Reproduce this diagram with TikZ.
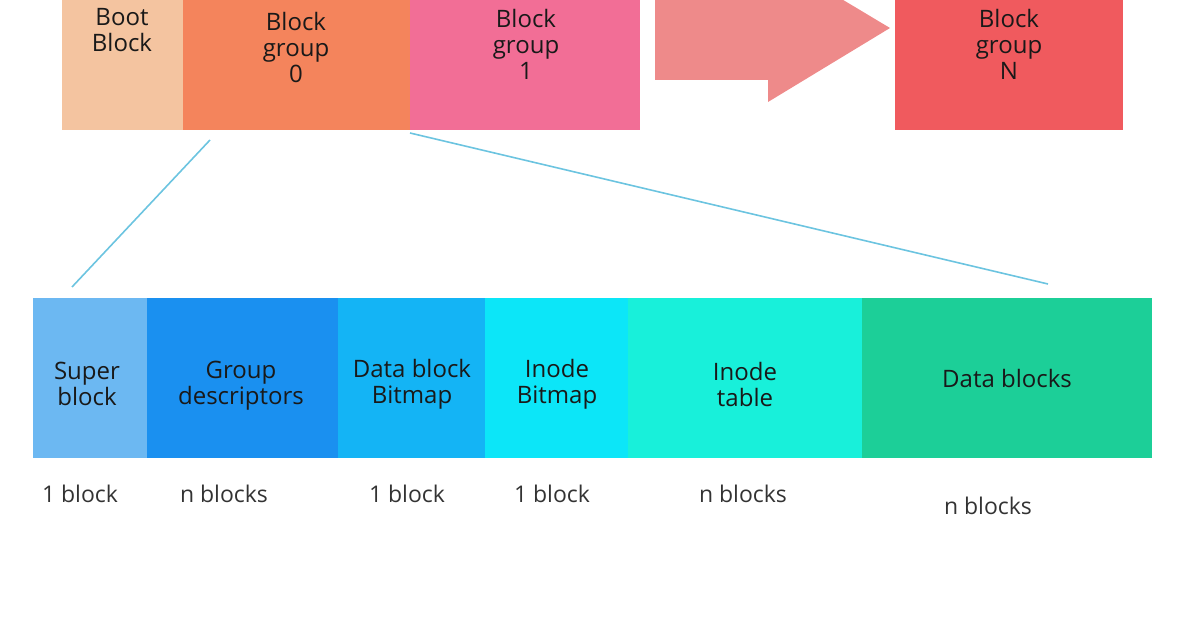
\documentclass[tikz,border=0pt]{standalone}
\usepackage{fontspec}
\setmainfont{Open Sans}
\begin{document}
\begin{tikzpicture}[x=1pt,y=-1pt,
 blk/.style={draw=none,inner sep=0pt,align=center,font=\fontsize{24}{26}\selectfont,text=black!90},
 lbl/.style={inner sep=0pt,font=\fontsize{23}{25}\selectfont,text=black!80},
 con/.style={draw=lc,line width=1.6pt}]
\useasboundingbox (0,0) rectangle (1196,628);
\clip (0,0) rectangle (1196,628);
\definecolor{lc}{HTML}{6CC4E0}
\definecolor{c1}{HTML}{F4C4A0}\definecolor{c2}{HTML}{F4845C}\definecolor{c3}{HTML}{F26E96}
\definecolor{c4}{HTML}{F05A5E}\definecolor{ca}{HTML}{EE8A8A}
\definecolor{d1}{HTML}{6CB8F2}\definecolor{d2}{HTML}{1A90F0}\definecolor{d3}{HTML}{14B4F5}
\definecolor{d4}{HTML}{0CE6F8}\definecolor{d5}{HTML}{18F0DA}\definecolor{d6}{HTML}{1CCF98}
\fill[c1] (62,-5) rectangle (183,130);
\fill[c2] (183,-5) rectangle (410,130);
\fill[c3] (410,-5) rectangle (640,130);
\fill[c4] (895,-5) rectangle (1123,130);
\fill[ca] (655,-5) -- (768,-5) -- (768,-45) -- (890,28) -- (768,102) -- (768,80) -- (655,80) -- cycle;
\node[blk] (boot) at (122,30) {Boot\\Block};
\node[blk] (g0) at (296,48) {Block\\group\\0};
\node[blk] (g1) at (526,44) {Block\\group\\1};
\node[blk] (gn) at (1009,44) {Block\\group\\N};
\coordinate (a1) at (210,140); \coordinate (b1) at (72,287);
\coordinate (a2) at (410,133); \coordinate (b2) at (1048,284);
\draw[con] (a1) -- (b1); \draw[con] (a2) -- (b2);
\fill[d1] (33,298) rectangle (147,458);
\fill[d2] (147,298) rectangle (338,458);
\fill[d3] (338,298) rectangle (485,458);
\fill[d4] (485,298) rectangle (628,458);
\fill[d5] (628,298) rectangle (862,458);
\fill[d6] (862,298) rectangle (1152,458);
\node[blk] (s) at (87,384) {Super\\block};
\node[blk] (gd) at (241,386) {Group\\descriptors};
\node[blk] (db) at (412,384) {Data block\\Bitmap};
\node[blk] (ib) at (557,384) {Inode\\Bitmap};
\node[blk] (it) at (745,384) {Inode\\table};
\node[blk] (ds) at (1007,378) {Data blocks};
\node[lbl] at (80,494) {1 block};
\node[lbl] at (224,494) {n blocks};
\node[lbl] at (407,494) {1 block};
\node[lbl] at (552,494) {1 block};
\node[lbl] at (743,494) {n blocks};
\node[lbl] at (988,506) {n blocks};
\end{tikzpicture}
\end{document}
